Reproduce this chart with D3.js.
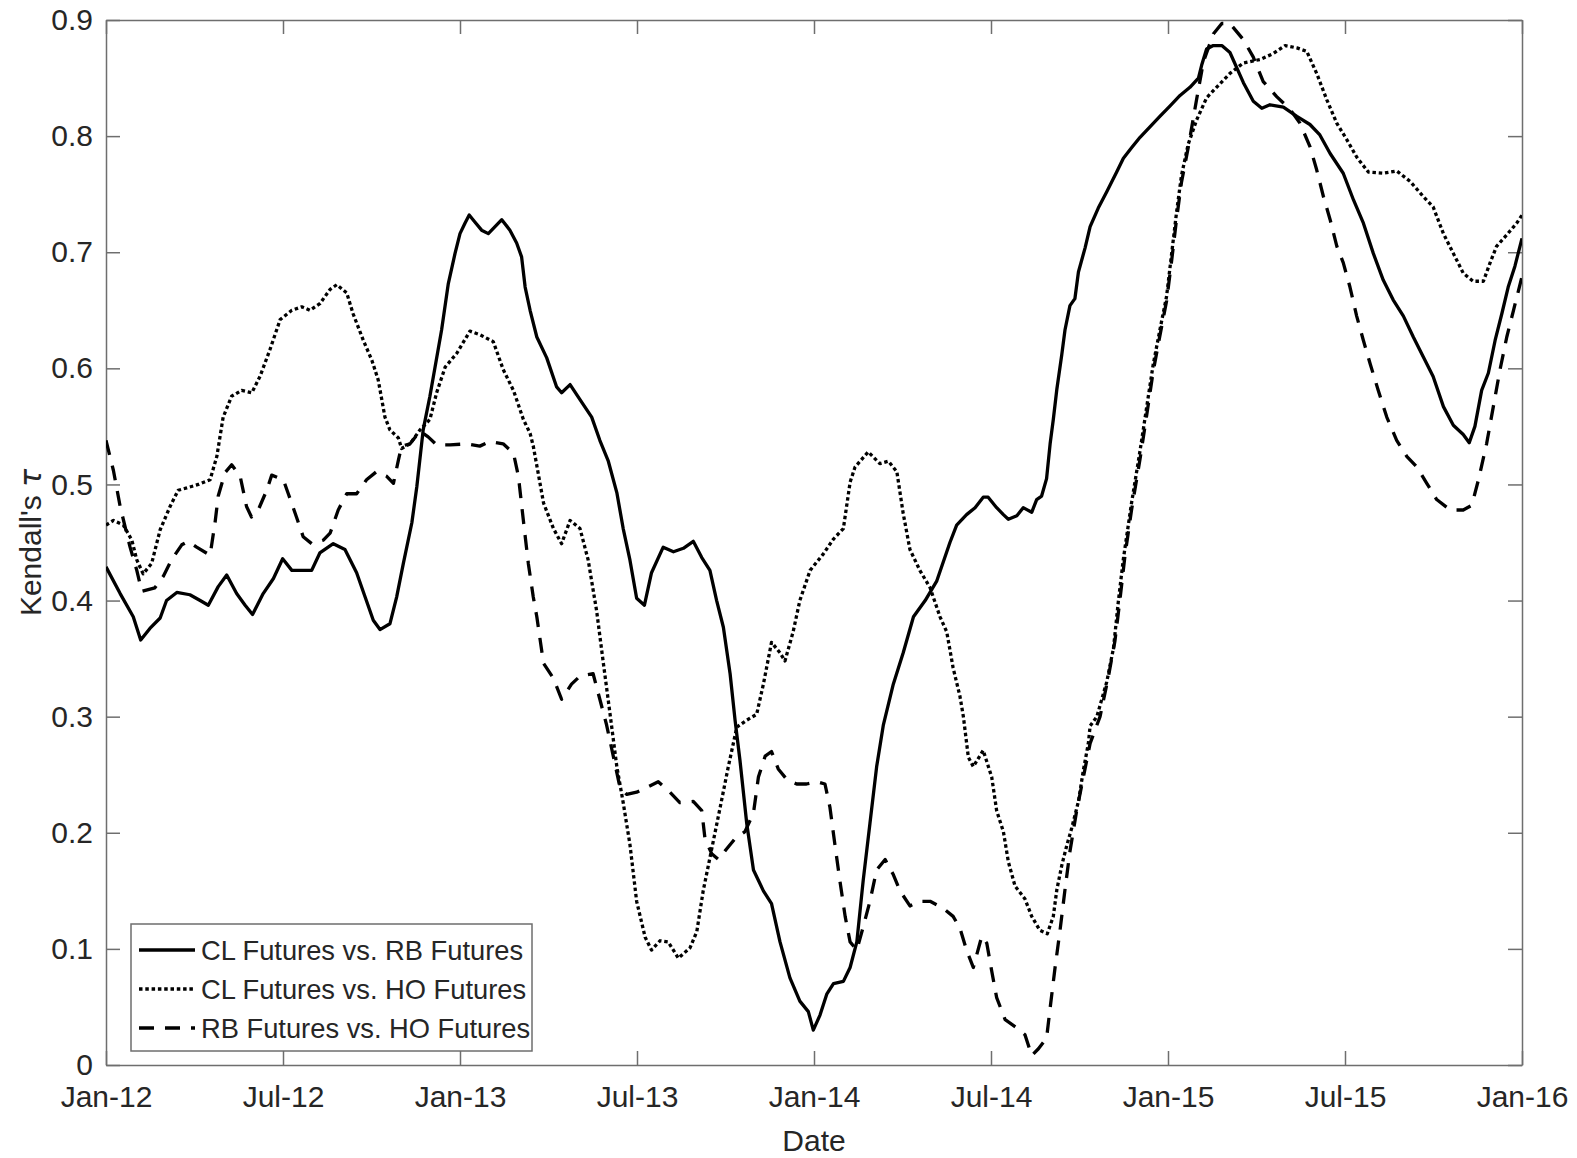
<!DOCTYPE html>
<html>
<head>
<meta charset="utf-8">
<script src="https://cdn.jsdelivr.net/npm/d3@7"></script>
<style>
  body { margin: 0; background: #fff; }
  text { font-family: Arial, "Liberation Sans", sans-serif; fill: #262626; }
</style>
</head>
<body>
<div id="chart-container"></div>
<script>
// Tick values and labels
const xTickValues = [2012, 2012.5, 2013, 2013.5, 2014, 2014.5, 2015, 2015.5, 2016];
const xTickLabels = ["Jan-12", "Jul-12", "Jan-13", "Jul-13", "Jan-14", "Jul-14", "Jan-15", "Jul-15", "Jan-16"];
const yTickValues = [0, 0.1, 0.2, 0.3, 0.4, 0.5, 0.6, 0.7, 0.8, 0.9];
const yTickLabels = ["0", "0.1", "0.2", "0.3", "0.4", "0.5", "0.6", "0.7", "0.8", "0.9"];

const seriesNames = ["CL Futures vs. RB Futures", "CL Futures vs. HO Futures", "RB Futures vs. HO Futures"];

// [decimal year, Kendall's tau]
const clRb = [
  [2012.000,0.429],[2012.040,0.406],[2012.077,0.386],[2012.098,0.366],[2012.124,0.376],[2012.153,0.385],
  [2012.171,0.400],[2012.200,0.407],[2012.237,0.405],[2012.266,0.400],[2012.289,0.396],[2012.317,0.412],
  [2012.341,0.422],[2012.369,0.406],[2012.393,0.396],[2012.414,0.388],[2012.444,0.406],[2012.473,0.419],
  [2012.499,0.436],[2012.525,0.426],[2012.553,0.426],[2012.581,0.426],[2012.604,0.441],[2012.642,0.449],
  [2012.675,0.444],[2012.708,0.424],[2012.732,0.403],[2012.755,0.383],[2012.774,0.375],[2012.802,0.380],
  [2012.821,0.403],[2012.840,0.432],[2012.864,0.467],[2012.878,0.498],[2012.896,0.547],[2012.915,0.576],
  [2012.948,0.633],[2012.967,0.673],[2012.986,0.699],[2013.000,0.716],[2013.014,0.725],[2013.026,0.732],
  [2013.042,0.726],[2013.061,0.719],[2013.080,0.716],[2013.099,0.722],[2013.118,0.728],[2013.141,0.719],
  [2013.160,0.708],[2013.174,0.696],[2013.184,0.670],[2013.198,0.650],[2013.217,0.627],[2013.245,0.609],
  [2013.273,0.584],[2013.287,0.579],[2013.311,0.586],[2013.339,0.573],[2013.372,0.558],[2013.395,0.538],
  [2013.419,0.520],[2013.443,0.493],[2013.461,0.462],[2013.480,0.435],[2013.499,0.402],[2013.521,0.396],
  [2013.541,0.424],[2013.574,0.446],[2013.603,0.442],[2013.631,0.445],[2013.659,0.451],[2013.683,0.437],
  [2013.706,0.426],[2013.725,0.400],[2013.744,0.377],[2013.763,0.337],[2013.777,0.297],[2013.791,0.262],
  [2013.810,0.208],[2013.829,0.168],[2013.857,0.150],[2013.880,0.139],[2013.904,0.106],[2013.932,0.075],
  [2013.960,0.055],[2013.984,0.046],[2013.998,0.030],[2014.017,0.043],[2014.036,0.061],[2014.055,0.070],
  [2014.083,0.072],[2014.102,0.084],[2014.121,0.106],[2014.139,0.159],[2014.158,0.208],[2014.177,0.257],
  [2014.196,0.293],[2014.224,0.328],[2014.252,0.355],[2014.281,0.386],[2014.314,0.400],[2014.347,0.417],
  [2014.384,0.450],[2014.403,0.465],[2014.431,0.474],[2014.455,0.480],[2014.478,0.489],[2014.492,0.489],
  [2014.516,0.480],[2014.535,0.474],[2014.549,0.470],[2014.573,0.473],[2014.591,0.480],[2014.615,0.476],
  [2014.629,0.487],[2014.643,0.490],[2014.657,0.505],[2014.667,0.535],[2014.676,0.556],[2014.686,0.582],
  [2014.700,0.612],[2014.709,0.633],[2014.723,0.654],[2014.737,0.660],[2014.747,0.683],[2014.766,0.704],
  [2014.780,0.722],[2014.803,0.738],[2014.827,0.752],[2014.855,0.769],[2014.874,0.781],[2014.897,0.790],
  [2014.921,0.799],[2014.949,0.808],[2014.977,0.817],[2015.006,0.826],[2015.034,0.835],[2015.062,0.842],
  [2015.086,0.850],[2015.095,0.861],[2015.109,0.875],[2015.128,0.878],[2015.152,0.878],[2015.175,0.872],
  [2015.213,0.846],[2015.241,0.830],[2015.265,0.824],[2015.288,0.827],[2015.326,0.825],[2015.364,0.817],
  [2015.401,0.810],[2015.429,0.801],[2015.458,0.785],[2015.495,0.768],[2015.524,0.745],[2015.552,0.725],
  [2015.580,0.699],[2015.608,0.676],[2015.636,0.659],[2015.665,0.645],[2015.693,0.627],[2015.721,0.610],
  [2015.749,0.593],[2015.778,0.567],[2015.806,0.551],[2015.834,0.543],[2015.851,0.536],[2015.867,0.550],
  [2015.886,0.581],[2015.905,0.596],[2015.924,0.624],[2015.943,0.647],[2015.961,0.670],[2015.980,0.688],
  [2016.000,0.712]
];

const clHo = [
  [2012.000,0.465],[2012.021,0.469],[2012.049,0.465],[2012.073,0.452],[2012.087,0.435],[2012.105,0.423],
  [2012.129,0.432],[2012.153,0.461],[2012.181,0.481],[2012.204,0.495],[2012.228,0.497],[2012.261,0.500],
  [2012.294,0.504],[2012.313,0.524],[2012.331,0.558],[2012.355,0.576],[2012.383,0.581],[2012.412,0.579],
  [2012.435,0.593],[2012.463,0.616],[2012.492,0.642],[2012.525,0.650],[2012.553,0.653],[2012.576,0.650],
  [2012.605,0.656],[2012.633,0.668],[2012.652,0.672],[2012.680,0.665],[2012.698,0.647],[2012.727,0.624],
  [2012.751,0.607],[2012.769,0.590],[2012.788,0.558],[2012.802,0.547],[2012.826,0.540],[2012.835,0.531],
  [2012.859,0.535],[2012.887,0.547],[2012.915,0.556],[2012.934,0.579],[2012.958,0.601],[2012.991,0.613],
  [2013.028,0.632],[2013.056,0.629],[2013.094,0.623],[2013.122,0.599],[2013.151,0.581],[2013.179,0.556],
  [2013.198,0.544],[2013.207,0.533],[2013.226,0.501],[2013.236,0.484],[2013.264,0.462],[2013.287,0.449],
  [2013.311,0.469],[2013.339,0.462],[2013.362,0.435],[2013.386,0.391],[2013.405,0.346],[2013.424,0.302],
  [2013.443,0.257],[2013.461,0.226],[2013.480,0.190],[2013.499,0.141],[2013.523,0.110],[2013.541,0.099],
  [2013.565,0.107],[2013.588,0.106],[2013.617,0.092],[2013.650,0.101],[2013.669,0.115],[2013.687,0.150],
  [2013.711,0.186],[2013.735,0.222],[2013.758,0.257],[2013.782,0.291],[2013.810,0.297],[2013.838,0.302],
  [2013.857,0.328],[2013.880,0.364],[2013.904,0.355],[2013.918,0.348],[2013.941,0.373],[2013.960,0.400],
  [2013.989,0.426],[2014.026,0.440],[2014.055,0.453],[2014.083,0.462],[2014.102,0.502],[2014.116,0.515],
  [2014.153,0.528],[2014.186,0.518],[2014.210,0.520],[2014.234,0.511],[2014.252,0.475],[2014.271,0.444],
  [2014.299,0.426],[2014.328,0.411],[2014.356,0.386],[2014.375,0.373],[2014.393,0.342],[2014.412,0.318],
  [2014.422,0.300],[2014.436,0.265],[2014.450,0.257],[2014.478,0.271],[2014.502,0.248],[2014.516,0.219],
  [2014.535,0.201],[2014.549,0.175],[2014.568,0.154],[2014.596,0.143],[2014.615,0.128],[2014.638,0.116],
  [2014.659,0.113],[2014.676,0.128],[2014.686,0.151],[2014.700,0.172],[2014.714,0.189],[2014.728,0.204],
  [2014.747,0.227],[2014.761,0.254],[2014.775,0.277],[2014.780,0.292],[2014.799,0.300],[2014.827,0.330],
  [2014.846,0.359],[2014.860,0.400],[2014.874,0.436],[2014.897,0.484],[2014.921,0.529],[2014.940,0.567],
  [2014.958,0.603],[2014.977,0.633],[2014.996,0.662],[2015.010,0.698],[2015.024,0.734],[2015.038,0.766],
  [2015.057,0.793],[2015.081,0.814],[2015.109,0.833],[2015.137,0.842],[2015.175,0.854],[2015.213,0.863],
  [2015.260,0.866],[2015.297,0.871],[2015.331,0.878],[2015.364,0.876],[2015.392,0.873],[2015.420,0.854],
  [2015.449,0.831],[2015.477,0.811],[2015.505,0.797],[2015.533,0.782],[2015.566,0.769],[2015.608,0.768],
  [2015.646,0.770],[2015.684,0.761],[2015.721,0.748],[2015.749,0.739],[2015.778,0.716],[2015.806,0.699],
  [2015.834,0.682],[2015.862,0.675],[2015.891,0.675],[2015.910,0.691],[2015.928,0.705],[2015.957,0.715],
  [2015.985,0.725],[2016.000,0.732]
];

const rbHo = [
  [2012.000,0.538],[2012.021,0.512],[2012.040,0.481],[2012.068,0.446],[2012.087,0.426],[2012.101,0.408],
  [2012.138,0.411],[2012.162,0.421],[2012.185,0.435],[2012.214,0.448],[2012.232,0.451],[2012.256,0.446],
  [2012.294,0.439],[2012.308,0.467],[2012.317,0.490],[2012.336,0.510],[2012.355,0.517],[2012.379,0.507],
  [2012.397,0.481],[2012.411,0.472],[2012.430,0.478],[2012.454,0.495],[2012.468,0.508],[2012.501,0.504],
  [2012.515,0.492],[2012.538,0.472],[2012.557,0.455],[2012.581,0.449],[2012.614,0.452],[2012.633,0.458],
  [2012.656,0.478],[2012.680,0.492],[2012.708,0.492],[2012.736,0.504],[2012.764,0.511],[2012.793,0.507],
  [2012.812,0.501],[2012.826,0.521],[2012.835,0.533],[2012.859,0.535],[2012.887,0.546],[2012.910,0.541],
  [2012.934,0.534],[2012.972,0.534],[2013.019,0.535],[2013.056,0.533],[2013.085,0.537],[2013.122,0.535],
  [2013.151,0.527],[2013.165,0.507],[2013.179,0.469],[2013.193,0.432],[2013.207,0.403],[2013.217,0.386],
  [2013.236,0.346],[2013.264,0.333],[2013.287,0.315],[2013.315,0.328],[2013.339,0.335],[2013.376,0.337],
  [2013.395,0.315],[2013.414,0.293],[2013.433,0.266],[2013.452,0.239],[2013.471,0.233],[2013.499,0.235],
  [2013.527,0.239],[2013.560,0.244],[2013.593,0.235],[2013.621,0.226],[2013.659,0.227],[2013.683,0.219],
  [2013.692,0.195],[2013.711,0.182],[2013.730,0.177],[2013.753,0.186],[2013.777,0.195],[2013.805,0.201],
  [2013.829,0.217],[2013.843,0.248],[2013.862,0.266],[2013.880,0.270],[2013.899,0.255],[2013.923,0.246],
  [2013.951,0.242],[2013.979,0.242],[2014.008,0.244],[2014.031,0.242],[2014.045,0.222],[2014.059,0.190],
  [2014.073,0.159],[2014.088,0.128],[2014.102,0.106],[2014.121,0.099],[2014.139,0.119],[2014.158,0.141],
  [2014.177,0.168],[2014.201,0.177],[2014.224,0.164],[2014.243,0.150],[2014.271,0.137],[2014.299,0.141],
  [2014.328,0.141],[2014.365,0.135],[2014.393,0.128],[2014.412,0.118],[2014.431,0.099],[2014.450,0.084],
  [2014.474,0.111],[2014.488,0.105],[2014.502,0.081],[2014.516,0.058],[2014.540,0.039],[2014.573,0.032],
  [2014.596,0.026],[2014.615,0.008],[2014.634,0.014],[2014.657,0.023],[2014.667,0.049],[2014.681,0.084],
  [2014.695,0.116],[2014.709,0.151],[2014.723,0.184],[2014.742,0.219],[2014.761,0.248],[2014.780,0.277],
  [2014.808,0.300],[2014.832,0.335],[2014.850,0.365],[2014.864,0.400],[2014.879,0.440],[2014.897,0.478],
  [2014.921,0.522],[2014.940,0.560],[2014.958,0.597],[2014.977,0.628],[2014.996,0.658],[2015.010,0.692],
  [2015.024,0.728],[2015.038,0.760],[2015.057,0.790],[2015.081,0.832],[2015.100,0.864],[2015.128,0.888],
  [2015.152,0.897],[2015.175,0.897],[2015.213,0.883],[2015.241,0.868],[2015.269,0.847],[2015.307,0.834],
  [2015.345,0.823],[2015.373,0.811],[2015.401,0.791],[2015.420,0.771],[2015.439,0.748],[2015.458,0.728],
  [2015.477,0.705],[2015.495,0.691],[2015.514,0.670],[2015.533,0.645],[2015.552,0.624],[2015.571,0.604],
  [2015.594,0.581],[2015.618,0.558],[2015.646,0.538],[2015.675,0.524],[2015.703,0.515],[2015.731,0.501],
  [2015.759,0.487],[2015.797,0.478],[2015.834,0.478],[2015.858,0.482],[2015.877,0.504],[2015.900,0.535],
  [2015.919,0.567],[2015.938,0.599],[2015.957,0.627],[2015.976,0.650],[2016.000,0.679]
];

// Chart dimensions
const totalWidth = 1577;
const totalHeight = 1158;
const margin = { top: 20, right: 55, bottom: 93, left: 106 };
const width = totalWidth - margin.left - margin.right;
const height = totalHeight - margin.top - margin.bottom;

const axisColor = "#6e6e6e";
const tickLen = 14;
const fontFamily = "Arial, 'Liberation Sans', sans-serif";

const svg = d3.select("#chart-container")
  .append("svg")
  .attr("width", totalWidth)
  .attr("height", totalHeight)
  .append("g")
  .attr("transform", `translate(${margin.left},${margin.top})`);

const xScale = d3.scaleLinear().domain([2012, 2016]).range([0, width]);
const yScale = d3.scaleLinear().domain([0, 0.9]).range([height, 0]);

svg.append("defs").append("clipPath")
  .attr("id", "plot-clip")
  .append("rect")
  .attr("width", width)
  .attr("height", height);

// Axes (inward ticks on all four sides, boxed figure)
const xAxisBottom = d3.axisBottom(xScale)
  .tickValues(xTickValues)
  .tickFormat((d, i) => xTickLabels[i])
  .tickSizeInner(-tickLen)
  .tickSizeOuter(0)
  .tickPadding(21);

const xAxisTop = d3.axisTop(xScale)
  .tickValues(xTickValues)
  .tickFormat("")
  .tickSizeInner(-tickLen)
  .tickSizeOuter(0);

const yAxisLeft = d3.axisLeft(yScale)
  .tickValues(yTickValues)
  .tickFormat((d, i) => yTickLabels[i])
  .tickSizeInner(-tickLen)
  .tickSizeOuter(0)
  .tickPadding(13);

const yAxisRight = d3.axisRight(yScale)
  .tickValues(yTickValues)
  .tickFormat("")
  .tickSizeInner(-tickLen)
  .tickSizeOuter(0);

svg.append("g").attr("class", "axis").attr("transform", `translate(0,${height})`).call(xAxisBottom);
svg.append("g").attr("class", "axis").call(xAxisTop);
svg.append("g").attr("class", "axis").call(yAxisLeft);
svg.append("g").attr("class", "axis").attr("transform", `translate(${width},0)`).call(yAxisRight);

svg.selectAll(".axis path, .axis line")
  .attr("stroke", axisColor)
  .attr("stroke-width", 1.5);
svg.selectAll(".axis text")
  .attr("font-size", 30)
  .attr("fill", "#262626")
  .style("font-family", fontFamily);

// Lines
const line = d3.line()
  .x(d => xScale(d[0]))
  .y(d => yScale(d[1]));

const seriesList = [
  { name: seriesNames[0], data: clRb, dash: null },
  { name: seriesNames[1], data: clHo, dash: "3.5,2.8" },
  { name: seriesNames[2], data: rbHo, dash: "15,11" }
];

const plot = svg.append("g").attr("clip-path", "url(#plot-clip)");

plot.selectAll(".series")
  .data(seriesList)
  .enter().append("path")
  .attr("class", "series")
  .attr("d", d => line(d.data))
  .attr("fill", "none")
  .attr("stroke", "#000")
  .attr("stroke-width", 3.3)
  .attr("stroke-linejoin", "round")
  .attr("stroke-dasharray", d => d.dash);

// Axis titles
svg.append("text")
  .attr("x", width / 2)
  .attr("y", height + 86)
  .attr("text-anchor", "middle")
  .attr("font-size", 30)
  .text("Date");

const yTitle = svg.append("text")
  .attr("transform", `translate(${-65},${height / 2}) rotate(-90)`)
  .attr("text-anchor", "middle")
  .attr("font-size", 30);
yTitle.append("tspan").text("Kendall's ");
yTitle.append("tspan").attr("font-style", "italic").style("font-family", "'DejaVu Sans', sans-serif").text("τ");

// Legend
const legend = svg.append("g").attr("transform", `translate(${131 - margin.left},${924 - margin.top})`);

legend.append("rect")
  .attr("width", 401)
  .attr("height", 127)
  .attr("fill", "#fff")
  .attr("stroke", axisColor)
  .attr("stroke-width", 1.5);

const rows = legend.selectAll(".legend-row")
  .data(seriesList)
  .enter().append("g")
  .attr("class", "legend-row")
  .attr("transform", (d, i) => `translate(0,${26 + i * 39})`);

rows.append("line")
  .attr("x1", 8)
  .attr("x2", 64)
  .attr("stroke", "#000")
  .attr("stroke-width", 3.3)
  .attr("stroke-dasharray", d => d.dash);

rows.append("text")
  .attr("x", 70)
  .attr("dy", "0.35em")
  .attr("font-size", 27.3)
  .attr("fill", "#000")
  .text(d => d.name);
</script>
</body>
</html>
